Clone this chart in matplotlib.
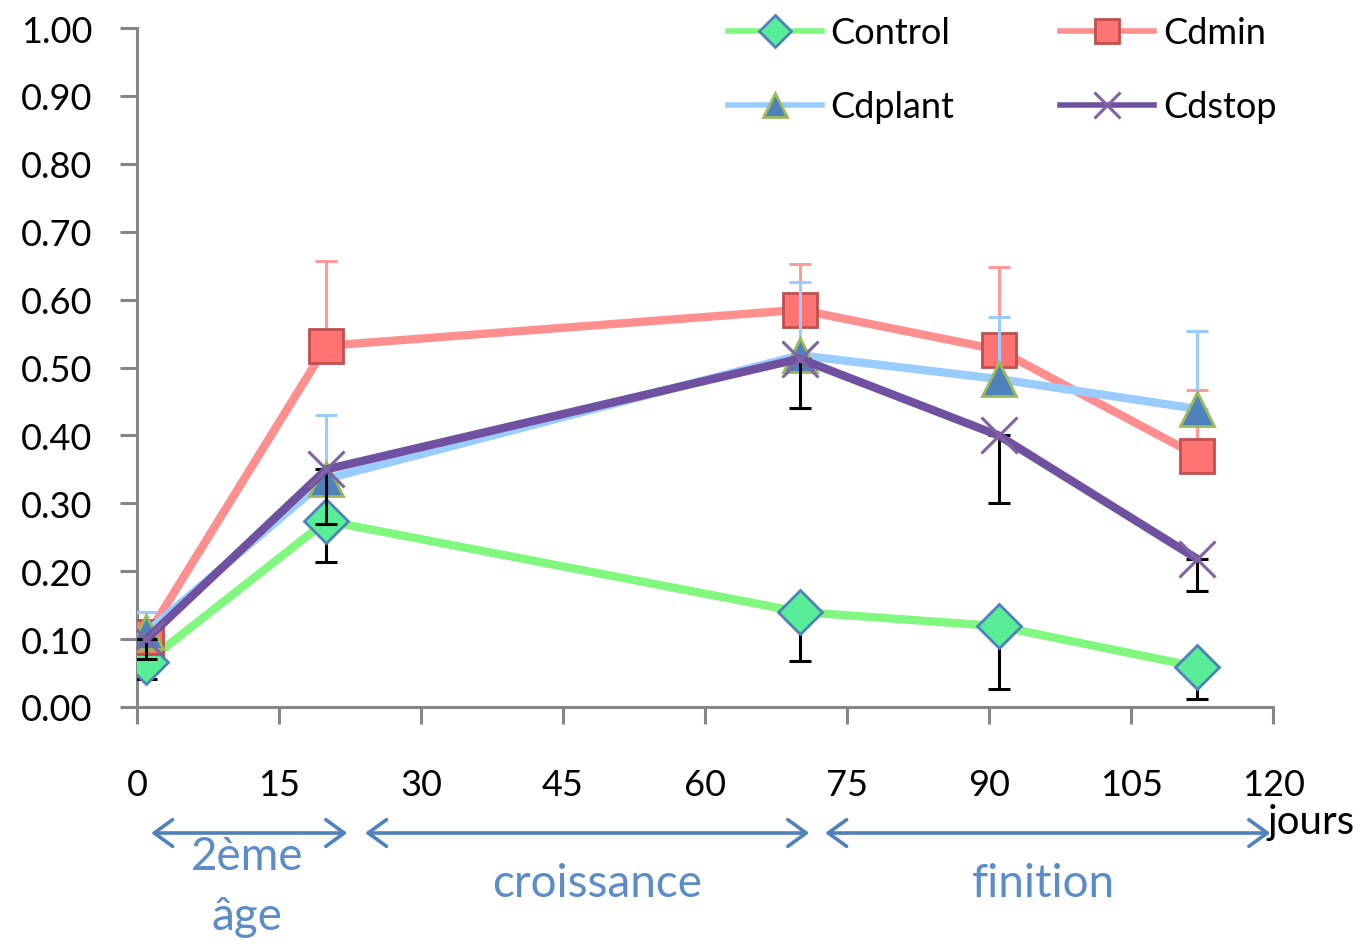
import matplotlib
matplotlib.use("Agg")
import matplotlib.pyplot as plt
from matplotlib.lines import Line2D
from matplotlib.patches import FancyArrowPatch

# Sampling days
days = [1, 20, 70, 91, 112]

# Mean values per treatment
control = [0.066, 0.274, 0.140, 0.119, 0.059]
cdmin = [0.103, 0.532, 0.585, 0.526, 0.370]
cdplant = [0.110, 0.336, 0.518, 0.483, 0.439]
cdstop = [0.100, 0.350, 0.513, 0.400, 0.218]

# Standard deviations (one-sided bars)
control_err = [0.025, 0.061, 0.072, 0.092, 0.047]
cdmin_err = [0.037, 0.125, 0.067, 0.122, 0.097]
cdplant_err = [0.030, 0.094, 0.108, 0.091, 0.115]
cdstop_err = [0.030, 0.080, 0.073, 0.100, 0.047]

x_ticks = [0, 15, 30, 45, 60, 75, 90, 105, 120]
y_ticks = [0.0, 0.1, 0.2, 0.3, 0.4, 0.5, 0.6, 0.7, 0.8, 0.9, 1.0]

# Production phases: (start, end)
phases = [(1.2, 22.5), (23.8, 71.3), (72.4, 120.0)]

plt.rcParams["font.family"] = ["Lato", "DejaVu Sans"]
FS = 26
FS_PHASE = 33

fig = plt.figure(figsize=(13.62, 9.45), dpi=100)
ax = fig.add_axes([0.1006, 0.2508, 0.8341, 0.7185])

series = [
    ("Control", control, control_err, "lower", "#80F880",
     dict(marker="D", ms=22, mfc="#58EE98", mec="#4F81BD", mew=2), "#000000"),
    ("Cdmin", cdmin, cdmin_err, "upper", "#FF8E8E",
     dict(marker="s", ms=24, mfc="#FF7373", mec="#C0504D", mew=2), "#FF9A9A"),
    ("Cdplant", cdplant, cdplant_err, "upper", "#9ACCFF",
     dict(marker="^", ms=24, mfc="#4F81BD", mec="#9BBB59", mew=2), "#9ACCFF"),
    ("Cdstop", cdstop, cdstop_err, "lower", "#7050A0",
     dict(marker="x", ms=26, mec="#8064A2", mew=2.2), "#000000"),
]

handles = {}
for i, (name, vals, err, side, lc, mk, ec) in enumerate(series):
    z = 3 + i * 3
    if side == "lower":
        yerr = [err, [0] * len(err)]
    else:
        yerr = [[0] * len(err), err]
    ax.errorbar(days, vals, yerr=yerr, fmt="none", ecolor=ec, elinewidth=2.2,
                capsize=8, capthick=2.2, zorder=z)
    ax.plot(days, vals, color=lc, lw=6.0, solid_capstyle="round", zorder=z + 1)
    ax.plot(days, vals, ls="none", zorder=z + 2, **mk)
    handles[name] = Line2D([], [], color=lc, lw=4, **{**mk, "ms": mk["ms"] * 0.72})

ax.set_xlim(0, 120)
ax.set_ylim(0, 1.0)
ax.set_xticks(x_ticks)
ax.set_yticks(y_ticks)
ax.set_yticklabels([f"{v:.2f}" for v in y_ticks])

for s in ["top", "right"]:
    ax.spines[s].set_visible(False)
for s in ["left", "bottom"]:
    ax.spines[s].set_color("#868686")
    ax.spines[s].set_linewidth(2.2)

ax.tick_params(axis="y", direction="out", length=12, width=2.2, color="#868686",
               labelsize=FS, pad=20)
ax.tick_params(axis="x", direction="out", length=12, width=2.2, color="#868686",
               labelsize=FS, pad=32)

order = ["Control", "Cdplant", "Cdmin", "Cdstop"]
ax.legend([handles[k] for k in order], order, ncol=2, loc="upper left",
          bbox_to_anchor=(0.520, 1.017), frameon=False, fontsize=FS,
          handlelength=2.6, handletextpad=0.25, columnspacing=2.92,
          labelspacing=1.13, borderpad=0, borderaxespad=0)

# Phase arrows and labels beneath the axis
arrow_y = -0.1856
blue = "#4F81BD"
label_blue = "#5B8CC8"
for x0, x1 in phases:
    arr = FancyArrowPatch((x0, arrow_y), (x1, arrow_y),
                          arrowstyle="<->,head_length=0.55,head_width=0.4",
                          mutation_scale=24, color=blue, lw=2.6,
                          transform=ax.transData, clip_on=False)
    ax.add_patch(arr)

ax.text(11.6, -0.219, "2ème", ha="center", va="center", fontsize=FS_PHASE,
        color=label_blue, clip_on=False)
ax.text(11.6, -0.308, "âge", ha="center", va="center", fontsize=FS_PHASE,
        color=label_blue, clip_on=False)
ax.text(48.6, -0.259, "croissance", ha="center", va="center", fontsize=FS_PHASE,
        color=label_blue, clip_on=False)
ax.text(95.7, -0.259, "finition", ha="center", va="center", fontsize=FS_PHASE,
        color=label_blue, clip_on=False)
ax.text(124.0, -0.168, "jours", ha="center", va="center", fontsize=29,
        color="black", clip_on=False)

fig.savefig("out.png", dpi=100)
